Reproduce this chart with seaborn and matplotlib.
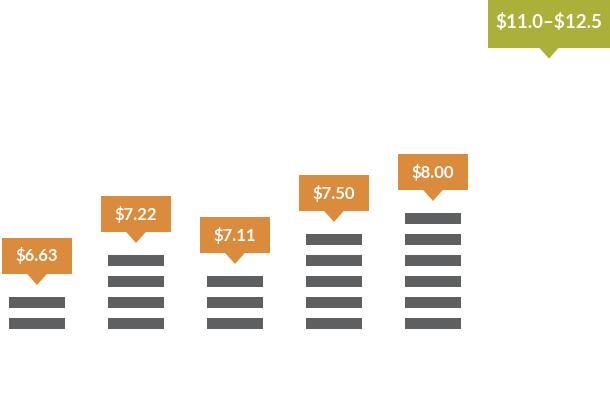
import matplotlib
matplotlib.use("Agg")
import matplotlib.pyplot as plt
import seaborn as sns
import pandas as pd
from matplotlib.patches import Rectangle, Polygon

# price labels per column (last one is a range with no coin stack)
columns = ["A", "B", "C", "D", "E", "F"]
prices = ["$6.63", "$7.22", "$7.11", "$7.50", "$8.00", "$11.0\u2013$12.5"]
coin_counts = [2, 4, 3, 5, 6, 0]
range_label_level = 13.4  # where the range callout sits (no coins under it)

coin_color = "#5e5f61"
box_colors = ["#da8b3b"] * 5 + ["#abb038"]

sns.set_theme(style="white")
plt.rcParams["font.family"] = ["Lato", "DejaVu Sans"]

fig = plt.figure(figsize=(6.10, 3.96), dpi=100)
ax = fig.add_axes([0, 0, 1, 1])

# pixel -> data unit scales
px_x = 1 / 99.0
px_y = 1 / 21.0
coin_h = 11 * px_y

for level in range(max(coin_counts)):
    cols = [c for c, n in zip(columns, coin_counts) if n > level]
    df = pd.DataFrame({"col": cols, "h": [coin_h] * len(cols)})
    sns.barplot(data=df, x="col", y="h", order=columns, color=coin_color,
                saturation=1, width=56 * px_x, errorbar=None, bottom=level,
                linewidth=0, ax=ax)

xmin, xmax = -37 * px_x, (610 - 37) * px_x
ax.set_xlim(xmin, xmax)
ax.set_ylim(-(396 - 329) * px_y, 329 * px_y)
ax.axis("off")

tip_h = 11 * px_y
tip_w = 10 * px_x
for i, (label, n, col) in enumerate(zip(prices, coin_counts, box_colors)):
    if n > 0:
        bottom = (n - 1) + coin_h + 23 * px_y
        w = 70 * px_x
        box_h = 36 * px_y
        text_y = bottom + box_h / 2
        size = 12
        cx = i
    else:
        bottom = range_label_level
        w = 122 * px_x
        box_h = 60 * px_y  # runs off the top edge
        text_y = bottom + 26 * px_y
        size = 13.5
        cx = xmax - w / 2  # pushed against the right edge
    ax.add_patch(Rectangle((cx - w / 2, bottom), w, box_h, color=col, lw=0))
    ax.add_patch(Polygon([(cx - tip_w, bottom + 0.01), (cx + tip_w, bottom + 0.01),
                          (cx, bottom - tip_h)], closed=True, color=col, lw=0))
    ax.text(cx, text_y, label, color="white", fontsize=size,
            fontweight="bold", ha="center", va="center", parse_math=False)

fig.savefig("out.png", dpi=100)
